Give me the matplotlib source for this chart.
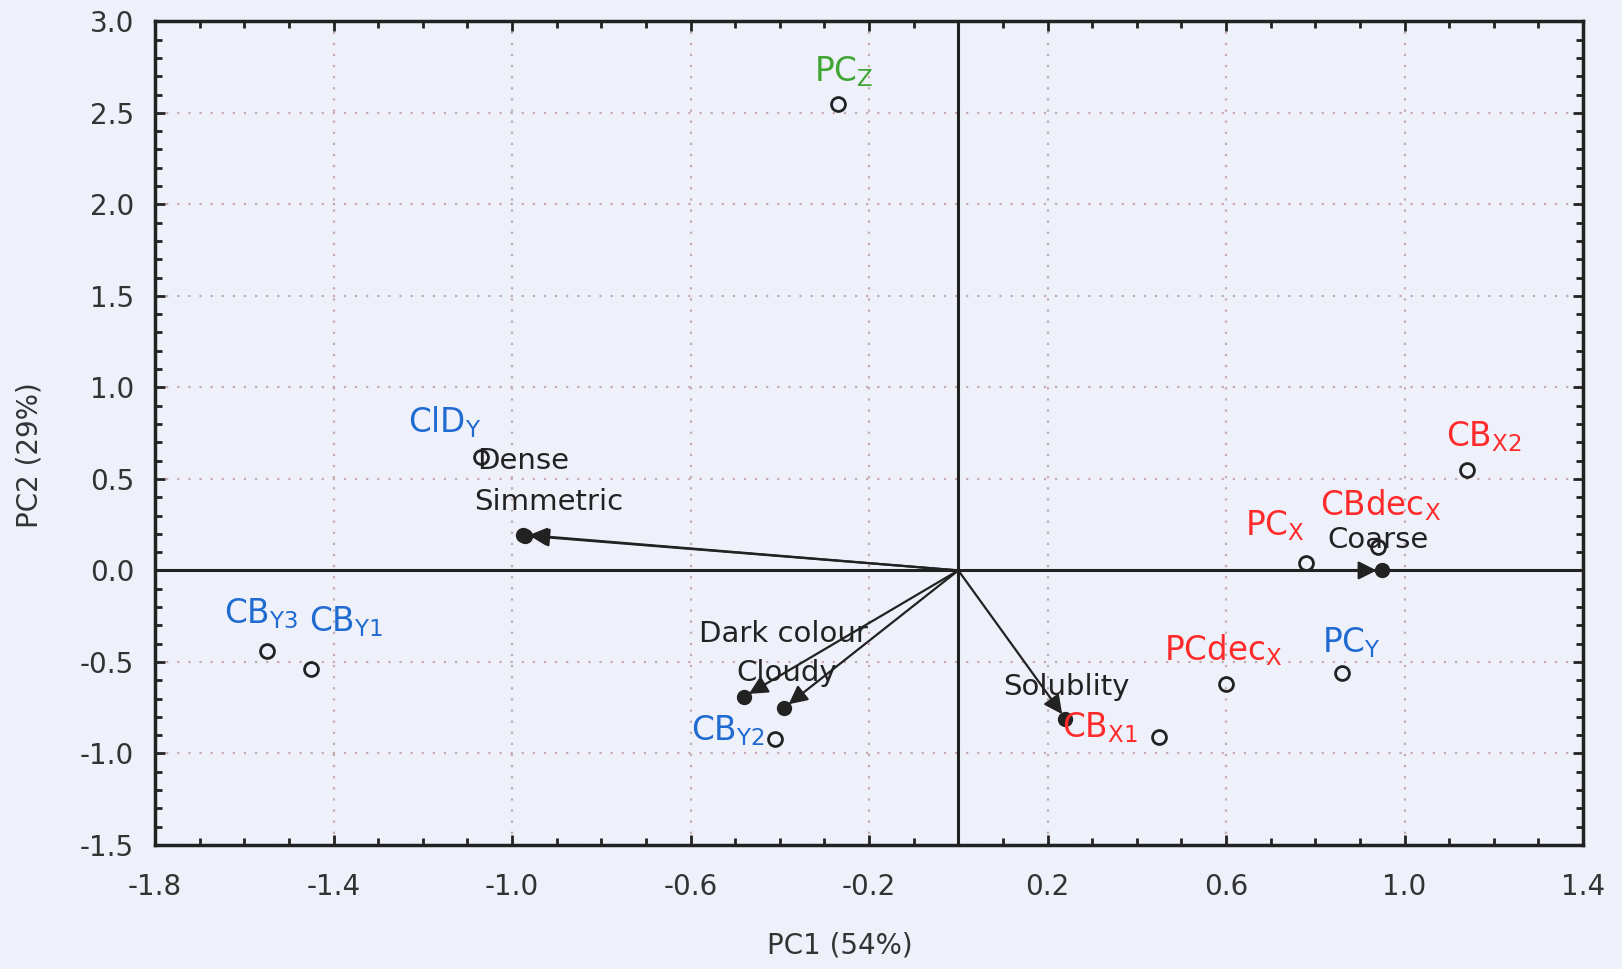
import matplotlib.pyplot as plt
from matplotlib.ticker import MultipleLocator, FixedLocator, FixedFormatter

plt.rcParams['font.family'] = ['DejaVu Sans']
plt.rcParams['mathtext.fontset'] = 'custom'
plt.rcParams['mathtext.rm'] = 'DejaVu Sans'
plt.rcParams['mathtext.it'] = 'DejaVu Sans:italic'

# sample scores
obs_labels = [r'$\mathrm{PC}_{\mathrm{Z}}$', r'$\mathrm{ClD}_{\mathrm{Y}}$',
              r'$\mathrm{CB}_{\mathrm{Y3}}$', r'$\mathrm{CB}_{\mathrm{Y1}}$',
              r'$\mathrm{CB}_{\mathrm{Y2}}$', r'$\mathrm{CB}_{\mathrm{X1}}$',
              r'$\mathrm{PCdec}_{\mathrm{X}}$', r'$\mathrm{PC}_{\mathrm{Y}}$',
              r'$\mathrm{PC}_{\mathrm{X}}$', r'$\mathrm{CBdec}_{\mathrm{X}}$',
              r'$\mathrm{CB}_{\mathrm{X2}}$']
obs_x = [-0.27, -1.07, -1.55, -1.45, -0.41, 0.45, 0.60, 0.86, 0.78, 0.94, 1.14]
obs_y = [2.55, 0.62, -0.44, -0.54, -0.92, -0.91, -0.62, -0.56, 0.04, 0.13, 0.55]
obs_group = ['Z', 'Y', 'Y', 'Y', 'Y', 'X', 'X', 'Y', 'X', 'X', 'X']

# variable loadings
var_labels = ['Dense', 'Simmetric', 'Dark colour', 'Cloudy', 'Solublity', 'Coarse']
var_x = [-0.975, -0.97, -0.48, -0.39, 0.24, 0.95]
var_y = [0.195, 0.19, -0.69, -0.75, -0.81, 0.0]

x_ticks = [-1.8, -1.4, -1.0, -0.6, -0.2, 0.2, 0.6, 1.0, 1.4]
y_ticks = [-1.5, -1.0, -0.5, 0.0, 0.5, 1.0, 1.5, 2.0, 2.5, 3.0]

group_colors = {'X': '#ff2b2b', 'Y': '#1f6bd2', 'Z': '#3fa535'}
# label offsets in points
obs_offsets = [(4, 23), (-26, 25), (-4, 27), (25, 34), (-34, 6), (-43, 7),
               (-2, 24), (7, 22), (-23, 27), (2, 30), (12, 24)]
var_offsets = [(0, 53), (17, 24), (28, 45), (2, 25), (1, 23), (-3, 22)]

bg = '#eff1fa'
fig = plt.figure(figsize=(16.22, 9.69), dpi=100, facecolor=bg)
ax = fig.add_axes([0.0956, 0.128, 0.8804, 0.850])
ax.set_facecolor(bg)
ax.set_xlim(-1.8, 1.4)
ax.set_ylim(-1.5, 3.0)

ax.xaxis.set_major_locator(FixedLocator(x_ticks))
ax.xaxis.set_major_formatter(FixedFormatter(['%.1f' % v for v in x_ticks]))
ax.xaxis.set_minor_locator(MultipleLocator(0.1))
ax.yaxis.set_major_locator(FixedLocator(y_ticks))
ax.yaxis.set_major_formatter(FixedFormatter(['%.1f' % v for v in y_ticks]))
ax.yaxis.set_minor_locator(MultipleLocator(0.1))

ax.tick_params(which='both', direction='in', top=True, right=True, color='#222222')
ax.tick_params(which='major', length=7, width=2, labelsize=20, labelcolor='#333333')
ax.tick_params(which='minor', length=5, width=2)
ax.tick_params(axis='x', which='major', pad=20)
ax.tick_params(axis='y', which='major', pad=15)
for sp in ax.spines.values():
    sp.set_linewidth(2.5)
    sp.set_color('#222222')

ax.grid(True, which='major', color='#c4a9ad', linestyle=(0, (1, 4)), linewidth=1.6)
ax.axhline(0, color='#222222', lw=2.2, zorder=2)
ax.axvline(0, color='#222222', lw=2.2, zorder=2)

# variable vectors
for lab, vx, vy, off in zip(var_labels, var_x, var_y, var_offsets):
    ax.annotate('', xy=(vx, vy), xytext=(0, 0),
                arrowprops=dict(arrowstyle='-|>', color='#222222', lw=1.6,
                                mutation_scale=28, shrinkA=0, shrinkB=4),
                zorder=3)
    ax.plot(vx, vy, 'o', color='#222222', ms=10, zorder=4)
    ax.annotate(lab, xy=(vx, vy), xytext=off, textcoords='offset points',
                ha='center', va='center', fontsize=21, color='#222222', zorder=5)

# sample points
for lab, ox, oy, g, off in zip(obs_labels, obs_x, obs_y, obs_group, obs_offsets):
    ax.plot(ox, oy, 'o', mfc='none', mec='#222222', mew=2, ms=10, zorder=4)
    ax.annotate(lab, xy=(ox, oy), xytext=off, textcoords='offset points',
                ha='center', va='center', fontsize=23.5, color=group_colors[g], zorder=5)

fig.text(0.518, 0.024, 'PC1 (54%)', ha='center', va='center', fontsize=20, color='#333333')
fig.text(0.018, 0.530, 'PC2 (29%)', ha='center', va='center', rotation=90,
         fontsize=20, color='#333333')

fig.savefig('out.png', dpi=100, facecolor=bg)
